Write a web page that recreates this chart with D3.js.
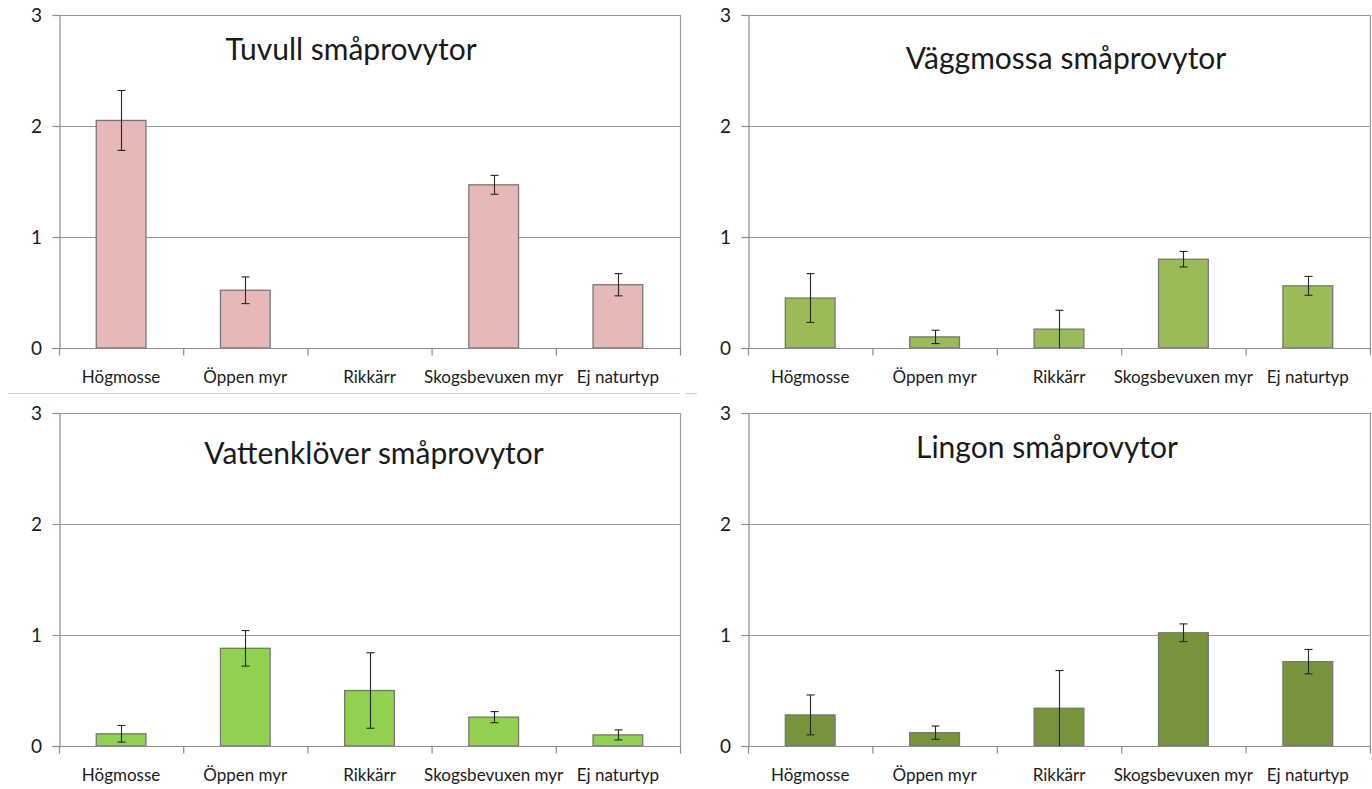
<!DOCTYPE html>
<html>
<head>
<meta charset="utf-8">
<script src="https://cdn.jsdelivr.net/npm/d3@7"></script>
<style>
  html, body { margin: 0; padding: 0; background: #ffffff; }
  svg { display: block; }
  text { font-family: Lato, "Open Sans", sans-serif; fill: #1a1a1a; }
</style>
</head>
<body>
<svg id="chart" width="1372" height="789"></svg>
<script>
// ---- data ----
const categories = ["Högmosse", "Öppen myr", "Rikkärr", "Skogsbevuxen myr", "Ej naturtyp"];
const yTicks = [0, 1, 2, 3];

const titles = ["Tuvull småprovytor", "Väggmossa småprovytor", "Vattenklöver småprovytor", "Lingon småprovytor"];

const tuvullMean = [2.05, 0.52, 0, 1.47, 0.57];
const tuvullErr  = [0.27, 0.12, 0, 0.085, 0.10];

const vaggmossaMean = [0.45, 0.10, 0.17, 0.80, 0.56];
const vaggmossaErr  = [0.22, 0.06, 0.17, 0.07, 0.085];

const vattenkloverMean = [0.11, 0.88, 0.50, 0.26, 0.10];
const vattenkloverErr  = [0.075, 0.16, 0.34, 0.05, 0.045];

const lingonMean = [0.28, 0.12, 0.34, 1.02, 0.76];
const lingonErr  = [0.18, 0.06, 0.34, 0.08, 0.11];

// ---- layout ----
const panels = [
  { title: titles[0], mean: tuvullMean, err: tuvullErr, color: "#e6b9b8",
    left: 59, right: 680, top: 15, bottom: 348, titleX: 351, titleY: 60 },
  { title: titles[1], mean: vaggmossaMean, err: vaggmossaErr, color: "#9bbb59",
    left: 748, right: 1370, top: 15, bottom: 348, titleX: 1066, titleY: 69 },
  { title: titles[2], mean: vattenkloverMean, err: vattenkloverErr, color: "#92d050",
    left: 59, right: 680, top: 413, bottom: 746, titleX: 374, titleY: 464 },
  { title: titles[3], mean: lingonMean, err: lingonErr, color: "#77933c",
    left: 748, right: 1370, top: 413, bottom: 746, titleX: 1047, titleY: 458 }
];

const svg = d3.select("#chart");

// panel separator (bottom border of upper-left chart image)
svg.append("line").attr("x1", 8).attr("x2", 680).attr("y1", 393.5).attr("y2", 393.5)
  .attr("stroke", "#d0d0d0").attr("stroke-width", 1.2);
svg.append("line").attr("x1", 686).attr("x2", 697).attr("y1", 393.5).attr("y2", 393.5)
  .attr("stroke", "#d0d0d0").attr("stroke-width", 1.2);

panels.forEach(p => {
  const g = svg.append("g");
  const x = d3.scaleBand().domain(categories).range([p.left, p.right])
    .paddingInner(0.6).paddingOuter(0.3);
  const y = d3.scaleLinear().domain([0, 3]).range([p.bottom, p.top]);

  // gridlines
  g.append("g").selectAll("line").data(yTicks.filter(t => t > 0)).join("line")
    .attr("x1", p.left).attr("x2", p.right)
    .attr("y1", d => Math.round(y(d)) + 0.5).attr("y2", d => Math.round(y(d)) + 0.5)
    .attr("stroke", "#999999").attr("stroke-width", 1.2);

  // right border
  g.append("line").attr("x1", p.right + 0.5).attr("x2", p.right + 0.5)
    .attr("y1", p.top).attr("y2", p.bottom)
    .attr("stroke", "#999999").attr("stroke-width", 1.2);

  // y axis
  const yAxis = d3.axisLeft(y).tickValues(yTicks).tickSize(7).tickPadding(14)
    .tickFormat(d3.format("d"));
  const ya = g.append("g").attr("transform", `translate(${p.left + 0.5},0)`).call(yAxis);
  ya.select(".domain").attr("stroke", "#8c8c8c").attr("stroke-width", 1.2);
  ya.selectAll(".tick line").attr("stroke", "#8c8c8c").attr("stroke-width", 1.2);
  ya.selectAll(".tick text").attr("font-size", 19).attr("font-family", "Lato, sans-serif")
    .attr("fill", "#1a1a1a").attr("text-anchor", "middle").attr("dx", "-2");

  // bars
  g.append("g").selectAll("rect").data(categories).join("rect")
    .attr("x", d => x(d))
    .attr("width", x.bandwidth())
    .attr("y", (d, i) => y(p.mean[i]))
    .attr("height", (d, i) => y(0) - y(p.mean[i]))
    .attr("fill", p.color)
    .attr("stroke", "#767676").attr("stroke-width", 1.3)
    .attr("display", (d, i) => p.mean[i] > 0 ? null : "none");

  // x axis
  const xa = g.append("g").attr("transform", `translate(0,${p.bottom + 0.5})`);
  xa.append("line").attr("x1", p.left - 7).attr("x2", p.right + 1)
    .attr("stroke", "#8c8c8c").attr("stroke-width", 1.2);
  const bounds = d3.range(categories.length + 1).map(i => p.left + i * (p.right - p.left) / categories.length);
  xa.selectAll("line.tk").data(bounds).join("line").attr("class", "tk")
    .attr("x1", d => d + 0.5).attr("x2", d => d + 0.5).attr("y1", 0).attr("y2", 7)
    .attr("stroke", "#8c8c8c").attr("stroke-width", 1.2);
  xa.selectAll("text").data(categories).join("text")
    .attr("x", d => x(d) + x.bandwidth() / 2)
    .attr("y", 34)
    .attr("text-anchor", "middle")
    .attr("font-size", 17)
    .text(d => d);

  // error bars
  const eb = g.append("g").attr("stroke", "#262626").attr("stroke-width", 1.1);
  categories.forEach((c, i) => {
    if (p.err[i] <= 0) return;
    const cx = Math.round(x(c) + x.bandwidth() / 2) + 0.5;
    const hi = p.mean[i] + p.err[i];
    const lo = Math.max(0, p.mean[i] - p.err[i]);
    eb.append("line").attr("x1", cx).attr("x2", cx).attr("y1", y(hi)).attr("y2", y(lo));
    eb.append("line").attr("x1", cx - 4).attr("x2", cx + 4).attr("y1", y(hi)).attr("y2", y(hi));
    if (lo > 0) eb.append("line").attr("x1", cx - 4).attr("x2", cx + 4).attr("y1", y(lo)).attr("y2", y(lo));
  });

  // title
  g.append("text").attr("x", p.titleX).attr("y", p.titleY)
    .attr("text-anchor", "middle").attr("font-size", 30).text(p.title);
});
</script>
</body>
</html>
